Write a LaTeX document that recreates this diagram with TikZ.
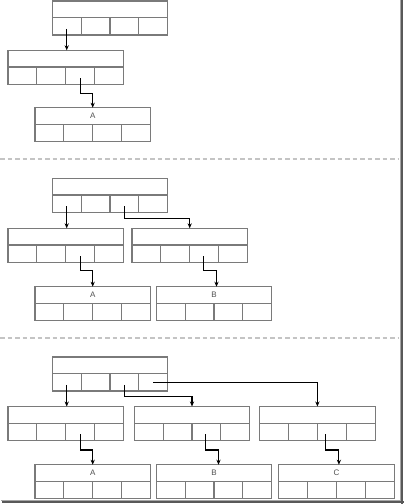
\documentclass[tikz,border=0pt]{standalone}
\usepackage{fontspec}
\setmainfont{Liberation Sans}
\usetikzlibrary{arrows.meta,calc}
\definecolor{boxgray}{HTML}{7A7A7A}
\definecolor{dashgray}{HTML}{C4C4C4}
\definecolor{labgray}{HTML}{505050}
\tikzset{
  boxtop/.style={draw=boxgray, line width=1.1pt, minimum width=115.4pt, minimum height=16.7pt,
    inner sep=0pt, outer sep=0pt, anchor=north west, font=\fontsize{8}{9}\selectfont, text=labgray},
  boxcell/.style={draw=boxgray, line width=1.1pt, minimum width=28.85pt, minimum height=17.3pt,
    inner sep=0pt, outer sep=0pt, anchor=north west},
  arr/.style={draw=black, line width=1.1pt, -{Stealth[length=5pt,width=4.2pt]}},
  sep/.style={draw=dashgray, line width=1.6pt, dash pattern=on 4.5pt off 3pt},
}
\newcommand{\recbox}[4]{%
  \node[boxtop] (#1) at (#2,#3) {#4};
  \node[boxcell] (#1-1) at (#1.south west) {};
  \node[boxcell] (#1-2) at (#1-1.north east) {};
  \node[boxcell] (#1-3) at (#1-2.north east) {};
  \node[boxcell] (#1-4) at (#1-3.north east) {};
}
\begin{document}
\begin{tikzpicture}[x=1pt,y=-1pt]
\useasboundingbox (0,0) rectangle (404,504);

% separators
\draw[sep] (0,159) -- (398,159);
\draw[sep] (0,338) -- (398,338);

% frame shadow
\draw[black!35, line width=1pt] (400,0) -- (400,500);
\draw[black!65, line width=2.2pt] (402.3,0) -- (402.3,504);
\draw[black!35, line width=1pt] (1,500) -- (401,500);
\draw[black!65, line width=2.2pt] (2,502.3) -- (404,502.3);

% ---------- panel 1 ----------
\recbox{p1t}{52.3}{1}{}
\recbox{p1m}{8}{50.3}{}
\recbox{p1a}{35}{107.7}{A}
\coordinate (e1) at (0,93.3);
\draw[arr] ([yshift=-2.5pt]p1t-1.center) -- (p1t-1.center |- p1m.north);
\draw[arr] ([yshift=-2.5pt]p1m-3.center) -- (p1m-3.center |- e1) -| (p1a.north);

% ---------- panel 2 ----------
\recbox{p2t}{52.3}{178.3}{}
\recbox{p2l}{8}{228.3}{}
\recbox{p2r}{132}{228.3}{}
\recbox{p2a}{35}{286.7}{A}
\recbox{p2b}{156.3}{286.7}{B}
\coordinate (e2u) at (0,218.3);
\coordinate (e2l) at (0,270.7);
\draw[arr] ([yshift=-2.5pt]p2t-1.center) -- (p2t-1.center |- p2l.north);
\draw[arr] ([yshift=-2.5pt]p2t-3.center) -- (p2t-3.center |- e2u) -| (p2r.north);
\draw[arr] ([yshift=-2.5pt]p2l-3.center) -- (p2l-3.center |- e2l) -| (p2a.north);
\draw[arr] ([xshift=-1pt,yshift=-2.5pt]p2r-3.center) -- ([xshift=-1pt]p2r-3.center |- e2l) -| ([xshift=2.5pt]p2b.north);

% ---------- panel 3 ----------
\recbox{p3t}{52.3}{357}{}
\recbox{p3l}{8}{406.5}{}
\recbox{p3m}{134.3}{406.5}{}
\recbox{p3r}{259.7}{406.5}{}
\recbox{p3a}{35}{464.7}{A}
\recbox{p3b}{156.3}{464.7}{B}
\recbox{p3c}{278.7}{464.7}{C}
\coordinate (e3u) at (0,396.7);
\coordinate (e3l) at (0,450);
\draw[arr] ([yshift=-2.5pt]p3t-1.center) -- (p3t-1.center |- p3l.north);
\draw[arr] ([yshift=-2.5pt]p3t-3.center) -- (p3t-3.center |- e3u) -| (p3m.north);
\draw[arr] (p3t-4.center) -| (p3r.north);
\draw[arr] ([yshift=-2.5pt]p3l-3.center) -- (p3l-3.center |- e3l) -| (p3a.north);
\draw[arr] ([xshift=-0.5pt,yshift=-2.5pt]p3m-3.center) -- ([xshift=-0.5pt]p3m-3.center |- e3l) -| ([xshift=4.5pt]p3b.north);
\draw[arr] ([xshift=-6.5pt,yshift=-2.5pt]p3r-3.center) -- ([xshift=-6.5pt]p3r-3.center |- e3l) -| ([xshift=2.5pt]p3c.north);
\end{tikzpicture}
\end{document}
